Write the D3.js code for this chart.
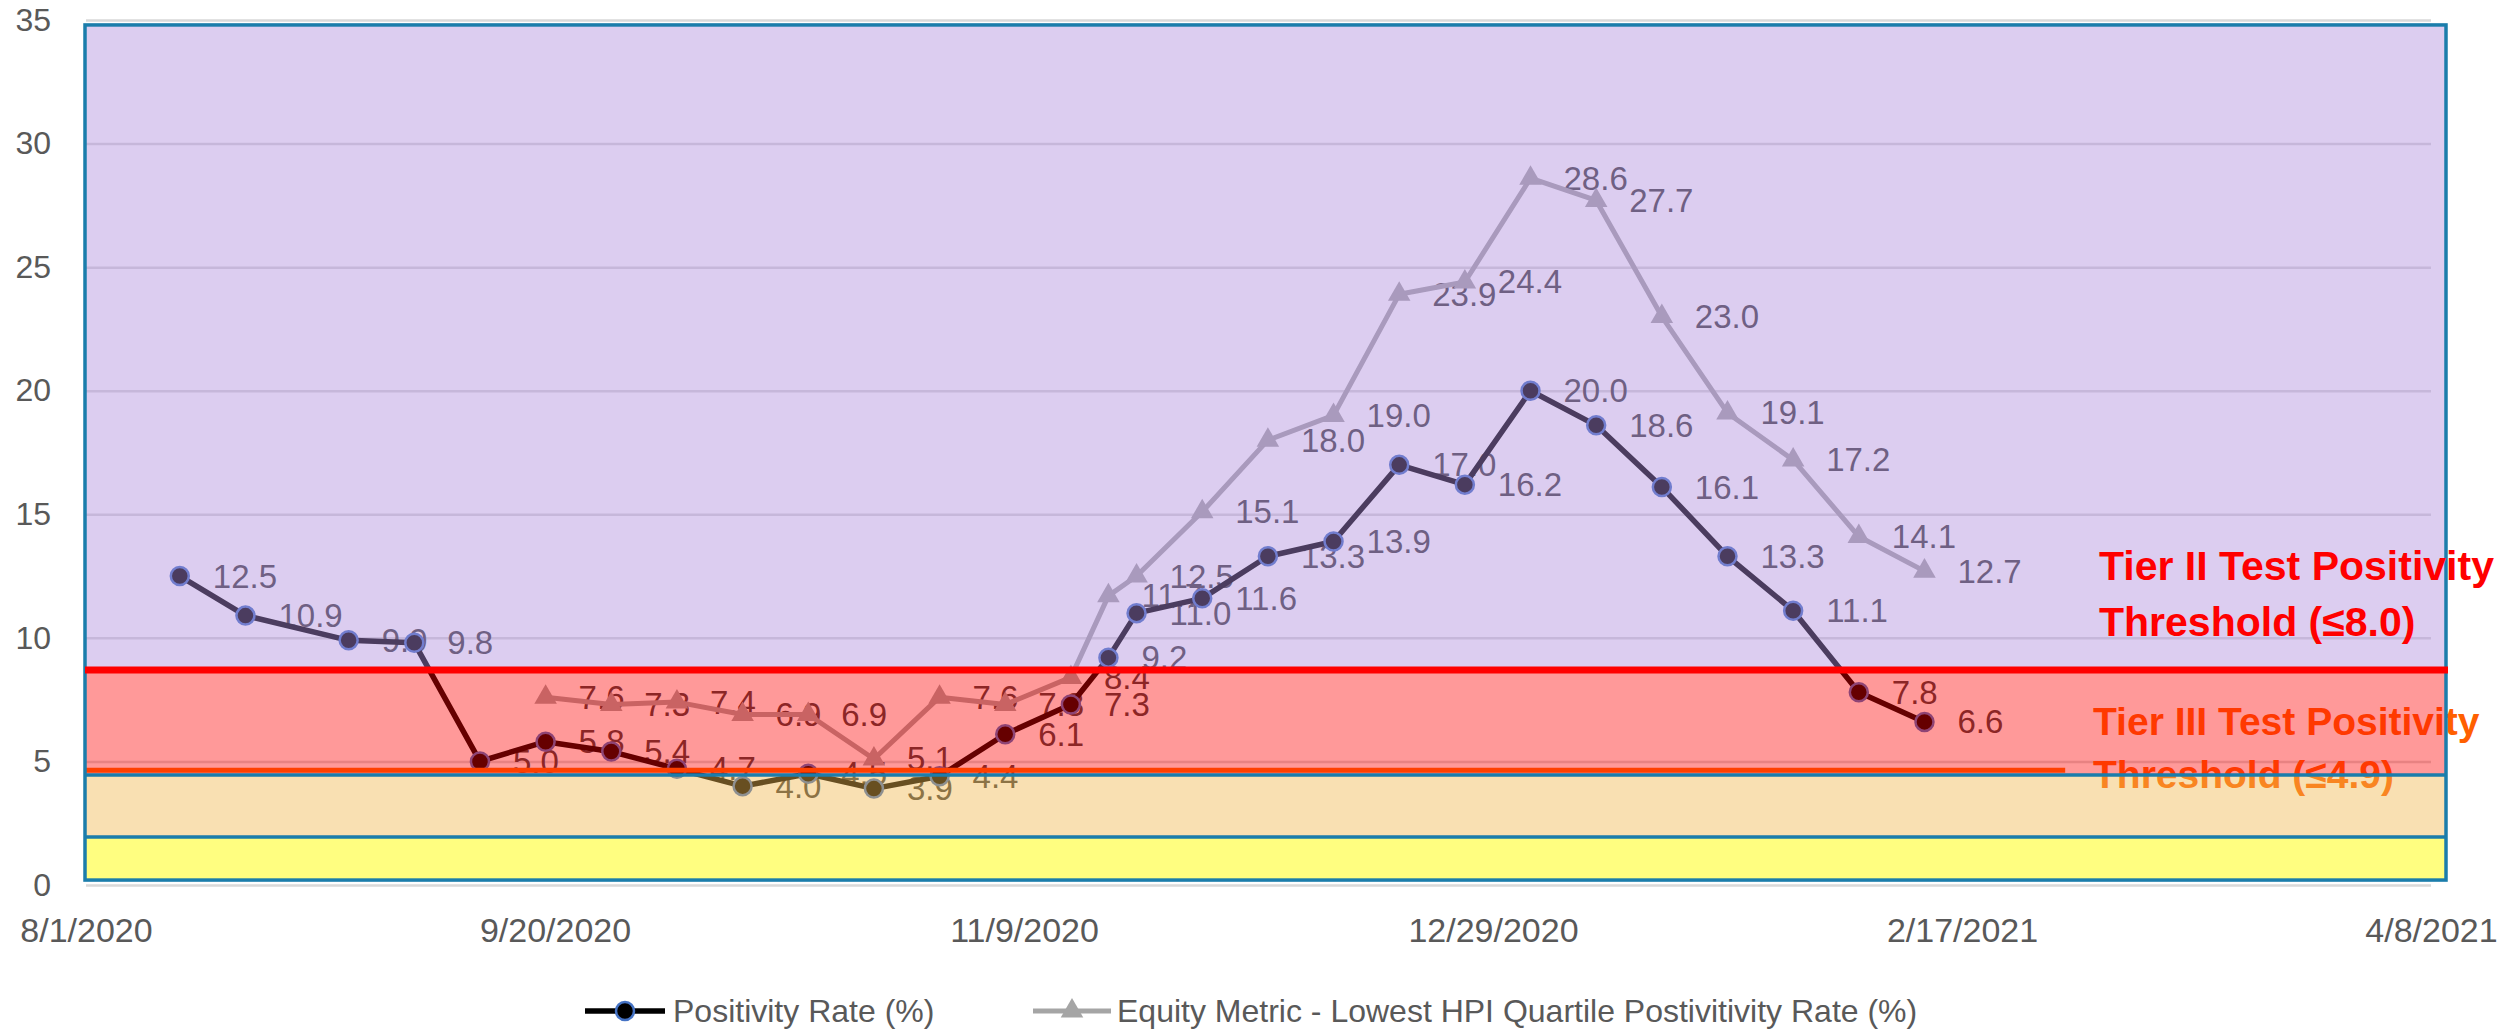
<!DOCTYPE html>
<html>
<head>
<meta charset="utf-8">
<script src="https://cdn.jsdelivr.net/npm/d3@7"></script>
<style>
  html, body { margin: 0; background: #fff; }
  svg { display: block; font-family: "Liberation Sans", Arial, sans-serif; }
  .axis .domain { display: none; }
  .axis text { fill: #595959; }
  .grid .domain { display: none; }
  .grid .tick line { stroke: #d9d9d9; stroke-width: 2.5; }
  .label { fill: #404040; font-size: 33px; }
  .legend text { fill: #595959; font-size: 32px; }
  .tier { font-weight: bold; font-size: 41px; }
</style>
</head>
<body>
<svg id="chart" width="2509" height="1032"></svg>
<script>
// Weekly reporting dates (one extra mid-week point on 11/18).
const weekDates = [
  "8/11/2020", "8/18/2020", "8/29/2020", "9/5/2020", "9/12/2020", "9/19/2020",
  "9/26/2020", "10/3/2020", "10/10/2020", "10/17/2020", "10/24/2020", "10/31/2020",
  "11/7/2020", "11/14/2020", "11/18/2020", "11/21/2020", "11/28/2020", "12/5/2020",
  "12/12/2020", "12/19/2020", "12/26/2020", "1/2/2021", "1/9/2021", "1/16/2021",
  "1/23/2021", "1/30/2021", "2/6/2021", "2/13/2021"
];
const positivityRates = [
  12.5, 10.9, 9.9, 9.8, 5.0, 5.8, 5.4, 4.7, 4.0, 4.5, 3.9, 4.4, 6.1, 7.3,
  9.2, 11.0, 11.6, 13.3, 13.9, 17.0, 16.2, 20.0, 18.6, 16.1, 13.3, 11.1, 7.8, 6.6
];
const equityRates = [
  null, null, null, null, null, 7.6, 7.3, 7.4, 6.9, 6.9, 5.1, 7.6, 7.3, 8.4,
  11.7, 12.5, 15.1, 18.0, 19.0, 23.9, 24.4, 28.6, 27.7, 23.0, 19.1, 17.2, 14.1, 12.7
];
const seriesNames = [
  "Positivity Rate (%)",
  "Equity Metric - Lowest HPI Quartile Postivitivity Rate (%)"
];
const xTickLabels = ["8/1/2020", "9/20/2020", "11/9/2020", "12/29/2020", "2/17/2021", "4/8/2021"];
const yTicks = [0, 5, 10, 15, 20, 25, 30, 35];

// Tier overlay drawn over the chart (edges in % positivity, top to bottom).
const bandEdges = [34.8, 8.7, 4.45, 1.94, 0.2];
const tierTwoLine = 8.7;
const tierThreeLine = 4.64;
const tierThreeLineEnd = "2/28/2021";
const tierTwoText = ["Tier II Test Positivity", "Threshold (\u22648.0)"];
const tierThreeText = ["Tier III Test Positivity", "Threshold (\u22644.9)"];

const BAND_FILLS = [
  "rgba(174,140,221,0.43)",
  "rgba(255,0,0,0.4)",
  "rgba(242,184,77,0.43)",
  "rgba(255,253,1,0.5)"
];
const FRAME_BLUE = "#1b7dab";

const parseDate = d3.utcParse("%m/%d/%Y");
const svg = d3.select("#chart");

// Scaffold.
const plotLeft = 86;
const plotRight = 2431;
const x = d3.scaleUtc()
  .domain([parseDate(xTickLabels[0]), parseDate(xTickLabels[xTickLabels.length - 1])])
  .range([plotLeft, plotRight]);
const y = d3.scaleLinear().domain([0, 35]).range([885, 20]);
const frameLeft = plotLeft - 1;
const frameRight = plotRight + 15;

const rows = weekDates.map((d, i) => ({
  date: parseDate(d),
  pos: positivityRates[i],
  eq: equityRates[i]
}));
const fmt = d3.format(".1f");

// Gridlines.
svg.append("g")
  .attr("class", "grid")
  .attr("transform", `translate(${plotLeft},0)`)
  .call(d3.axisLeft(y).tickValues(yTicks).tickSize(-(plotRight - plotLeft)).tickFormat(""));

// Y axis labels.
svg.append("g")
  .attr("class", "axis")
  .attr("transform", "translate(51,0)")
  .call(d3.axisLeft(y).tickValues(yTicks).tickSize(0).tickPadding(0))
  .selectAll("text").style("font-size", "32px");

// X axis labels.
svg.append("g")
  .attr("class", "axis")
  .attr("transform", "translate(0,918)")
  .call(d3.axisBottom(x)
    .tickValues(xTickLabels.map(parseDate))
    .tickFormat(d3.utcFormat("%-m/%-d/%Y"))
    .tickSize(0).tickPadding(0))
  .selectAll("text").style("font-size", "34px");

// Tier III note sits under the tint.
const tierThree = svg.append("text")
  .attr("class", "tier")
  .attr("fill", "#ff6000")
  .attr("x", 2093)
  .attr("y", 735)
  .style("font-size", "39px");
tierThreeText.forEach((t, i) =>
  tierThree.append("tspan").attr("x", 2093).attr("dy", i ? 53 : 0).text(t));

// Data labels.
const labels = svg.append("g");
labels.selectAll(".eq-label")
  .data(rows.filter(d => d.eq != null))
  .join("text")
  .attr("class", "label")
  .attr("x", d => x(d.date) + 33)
  .attr("y", d => y(d.eq))
  .attr("dominant-baseline", "central")
  .text(d => fmt(d.eq));
labels.selectAll(".pos-label")
  .data(rows)
  .join("text")
  .attr("class", "label")
  .attr("x", d => x(d.date) + 33)
  .attr("y", d => y(d.pos))
  .attr("dominant-baseline", "central")
  .text(d => fmt(d.pos));

// Lines and markers.
const line = key => d3.line()
  .defined(d => d[key] != null)
  .x(d => x(d.date))
  .y(d => y(d[key]));

svg.append("path")
  .datum(rows)
  .attr("fill", "none")
  .attr("stroke", "#000")
  .attr("stroke-width", 5.5)
  .attr("stroke-linejoin", "round")
  .attr("d", line("pos"));

svg.append("path")
  .datum(rows)
  .attr("fill", "none")
  .attr("stroke", "#a5a5a5")
  .attr("stroke-width", 5)
  .attr("stroke-linejoin", "round")
  .attr("d", line("eq"));

svg.append("g")
  .selectAll("circle")
  .data(rows)
  .join("circle")
  .attr("cx", d => x(d.date))
  .attr("cy", d => y(d.pos))
  .attr("r", 9)
  .attr("fill", "#000")
  .attr("stroke", "#4472c4")
  .attr("stroke-width", 2.5);

const triangle = d3.symbol(d3.symbolTriangle, 220);
svg.append("g")
  .selectAll("path")
  .data(rows.filter(d => d.eq != null))
  .join("path")
  .attr("transform", d => `translate(${x(d.date)},${y(d.eq)})`)
  .attr("fill", "#a5a5a5")
  .attr("d", triangle);

// Tier tint bands.
svg.append("g")
  .selectAll("rect")
  .data(d3.pairs(bandEdges))
  .join("rect")
  .attr("x", frameLeft)
  .attr("width", frameRight - frameLeft)
  .attr("y", d => y(d[0]))
  .attr("height", d => y(d[1]) - y(d[0]))
  .attr("fill", (d, i) => BAND_FILLS[i]);

// Threshold lines and frame.
svg.append("line")
  .attr("x1", frameLeft).attr("x2", x(parseDate(tierThreeLineEnd)))
  .attr("y1", y(tierThreeLine)).attr("y2", y(tierThreeLine))
  .attr("stroke", "#ff4000").attr("stroke-width", 5);

svg.append("g")
  .selectAll("line")
  .data(bandEdges.slice(2, 4))
  .join("line")
  .attr("x1", frameLeft).attr("x2", frameRight)
  .attr("y1", d => y(d)).attr("y2", d => y(d))
  .attr("stroke", FRAME_BLUE).attr("stroke-width", 3.5);

svg.append("rect")
  .attr("x", frameLeft)
  .attr("y", y(bandEdges[0]))
  .attr("width", frameRight - frameLeft)
  .attr("height", y(bandEdges[4]) - y(bandEdges[0]))
  .attr("fill", "none")
  .attr("stroke", FRAME_BLUE)
  .attr("stroke-width", 3.5);

svg.append("line")
  .attr("x1", frameLeft).attr("x2", frameRight + 2)
  .attr("y1", y(tierTwoLine)).attr("y2", y(tierTwoLine))
  .attr("stroke", "#ff0000").attr("stroke-width", 7);

const tierTwo = svg.append("text")
  .attr("class", "tier")
  .attr("fill", "#ff0000")
  .attr("x", 2099)
  .attr("y", 580);
tierTwoText.forEach((t, i) =>
  tierTwo.append("tspan").attr("x", 2099).attr("dy", i ? 56 : 0).text(t));

// Legend.
const legend = svg.append("g").attr("class", "legend").attr("transform", "translate(0,1011)");
const posKey = legend.append("g").attr("transform", "translate(585,0)");
posKey.append("line").attr("x1", 0).attr("x2", 80)
  .attr("stroke", "#000").attr("stroke-width", 5.5);
posKey.append("circle").attr("cx", 40).attr("r", 9)
  .attr("fill", "#000").attr("stroke", "#4472c4").attr("stroke-width", 2.5);
posKey.append("text").attr("x", 88).attr("dy", "0.35em").text(seriesNames[0]);

const eqKey = legend.append("g").attr("transform", "translate(1033,0)");
eqKey.append("line").attr("x1", 0).attr("x2", 78)
  .attr("stroke", "#a5a5a5").attr("stroke-width", 5);
eqKey.append("path").attr("transform", "translate(39,0)")
  .attr("fill", "#a5a5a5").attr("d", triangle);
eqKey.append("text").attr("x", 84).attr("dy", "0.35em").text(seriesNames[1]);
</script>
</body>
</html>
